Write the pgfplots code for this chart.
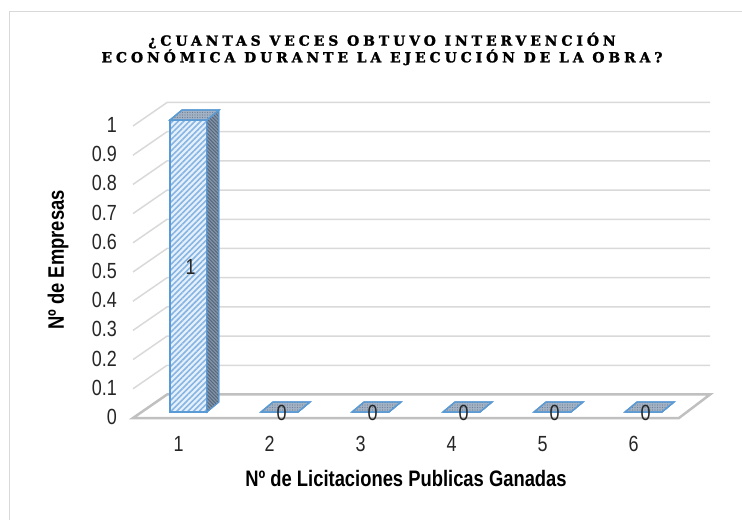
\documentclass[border=0pt]{standalone}
\usepackage{fontspec}
\setmainfont{Liberation Sans}[FakeStretch=0.82]
\newfontfamily\titlefont{DejaVu Serif Bold}[LetterSpace=28, FakeBold=1.5]
\usepackage{pgfplots}
\usepackage{pgfplotstable}
\pgfplotsset{compat=1.18}
\usetikzlibrary{patterns.meta}
\definecolor{barblue}{HTML}{5B9BD5}
\definecolor{frontfill}{HTML}{E6F0FA}
\definecolor{frontpat}{HTML}{86B5E4}
\definecolor{sidefill}{HTML}{8494A9}
\definecolor{sidepat}{HTML}{56677C}
\definecolor{topfill}{HTML}{A3B2C4}
\definecolor{toppat}{HTML}{6E8097}
\definecolor{gridc}{HTML}{D9D9D9}
\definecolor{floorc}{HTML}{C0C0C0}
\definecolor{framec}{HTML}{D9D9D9}
\pgfdeclareplotmark{empty}{}

\pgfplotstableread{
x y
1 1
2 0
3 0
4 0
5 0
6 0
}\datatable

\begin{document}
\begin{tikzpicture}
\path[use as bounding box] (-133bp,-102bp) rectangle (609bp,418bp);
\draw[framec, line width=1bp] (-123bp,-102bp) -- (-123bp,406bp) -- (609bp,406bp);
\begin{axis}[
  scale only axis,
  width=546bp, height=292bp,
  xmin=0.5, xmax=6.5, ymin=0, ymax=1,
  clip=false,
  axis line style={draw=none},
  tick style={draw=none},
  xtick={1,2,3,4,5,6},
  xticklabels={1,2,3,4,5,6},
  ytick={0,0.1,0.2,0.3,0.4,0.5,0.6,0.7,0.8,0.9,1},
  yticklabels={0,0.1,0.2,0.3,0.4,0.5,0.6,0.7,0.8,0.9,1},
  ticklabel style={font=\fontsize{22}{22}\selectfont, text=black!85},
  yticklabel style={anchor=east, inner sep=0pt, xshift=-16bp, yshift=1bp},
  xticklabel style={anchor=center, inner sep=0pt, yshift=-26bp},
  xlabel={Nº de Licitaciones Publicas Ganadas},
  ylabel={Nº de Empresas},
  label style={font=\bfseries\fontsize{22.5}{22.5}\selectfont},
  xlabel style={at={(axis description cs:0.5,-0.2055)}, anchor=center, inner sep=0pt},
  ylabel style={at={(axis description cs:-0.1374,0.541)}, anchor=center, inner sep=0pt},
]
% back wall gridlines with left-side diagonals
\addplot[gridc, line width=1.5bp] coordinates {(0.5,0.1) (0.874,0.1805) (6.841,0.1805)};
\addplot[gridc, line width=1.5bp] coordinates {(0.5,0.2) (0.874,0.2805) (6.841,0.2805)};
\addplot[gridc, line width=1.5bp] coordinates {(0.5,0.3) (0.874,0.3805) (6.841,0.3805)};
\addplot[gridc, line width=1.5bp] coordinates {(0.5,0.4) (0.874,0.4805) (6.841,0.4805)};
\addplot[gridc, line width=1.5bp] coordinates {(0.5,0.5) (0.874,0.5805) (6.841,0.5805)};
\addplot[gridc, line width=1.5bp] coordinates {(0.5,0.6) (0.874,0.6805) (6.841,0.6805)};
\addplot[gridc, line width=1.5bp] coordinates {(0.5,0.7) (0.874,0.7805) (6.841,0.7805)};
\addplot[gridc, line width=1.5bp] coordinates {(0.5,0.8) (0.874,0.8805) (6.841,0.8805)};
\addplot[gridc, line width=1.5bp] coordinates {(0.5,0.9) (0.874,0.9805) (6.841,0.9805)};
\addplot[gridc, line width=1.5bp] coordinates {(0.5,1.0) (0.874,1.0805) (6.841,1.0805)};
% floor
\addplot[floorc, line width=2.5bp, fill=white] coordinates {(0.5,0) (6.5,0) (6.841,0.0805) (0.874,0.0805)} -- cycle;
% front faces of the bars
\addplot[ybar, bar width=37bp, bar shift=10bp, yshift=6bp, draw=barblue, line width=1.2bp,
  fill=frontfill,
  postaction={pattern={Lines[angle=45,distance=4bp,line width=1.6bp]}, pattern color=frontpat}]
  table[x=x, y=y] {\datatable};
% side and top faces of the bars
\addplot[only marks, mark=empty,
  scatter,
  visualization depends on={rawy \as \barval},
  scatter/@pre marker code/.code={%
    \pgfmathsetmacro\hh{292*\barval}%
    \path[fill=sidefill, draw=barblue, line width=1bp,
      postaction={pattern={Lines[angle=-45,distance=2.5bp,line width=1bp]}, pattern color=sidepat}]
      (28.5bp,6bp) -- (40.5bp,16bp) -- (40.5bp,16bp-\hh bp) -- (28.5bp,6bp-\hh bp) -- cycle;
    \path[fill=topfill, draw=barblue, line width=1.3bp,
      postaction={pattern={Dots[distance=2.5bp,radius=0.7bp]}, pattern color=toppat}]
      (-8.5bp,6bp) -- (28.5bp,6bp) -- (40.5bp,16bp) -- (3.5bp,16bp) -- cycle;
  },
  scatter/@post marker code/.code={}]
  table[x=x, y=y] {\datatable};
% data labels
\addplot[only marks, mark=empty,
  point meta=explicit symbolic,
  nodes near coords,
  every node near coord/.append style={anchor=center, inner sep=0pt, xshift=12bp, yshift=5bp,
    font=\fontsize{22}{22}\selectfont, text=black!85}]
  table[x=x, y expr=\thisrow{y}/2, meta=y] {\datatable};
\end{axis}
\node[align=center, font=\titlefont\fontsize{14}{12.5}\selectfont] at (249bp,369bp)
  {¿CUANTAS VECES OBTUVO INTERVENCIÓN\\ECONÓMICA DURANTE LA EJECUCIÓN DE LA OBRA?};
\end{tikzpicture}
\end{document}
